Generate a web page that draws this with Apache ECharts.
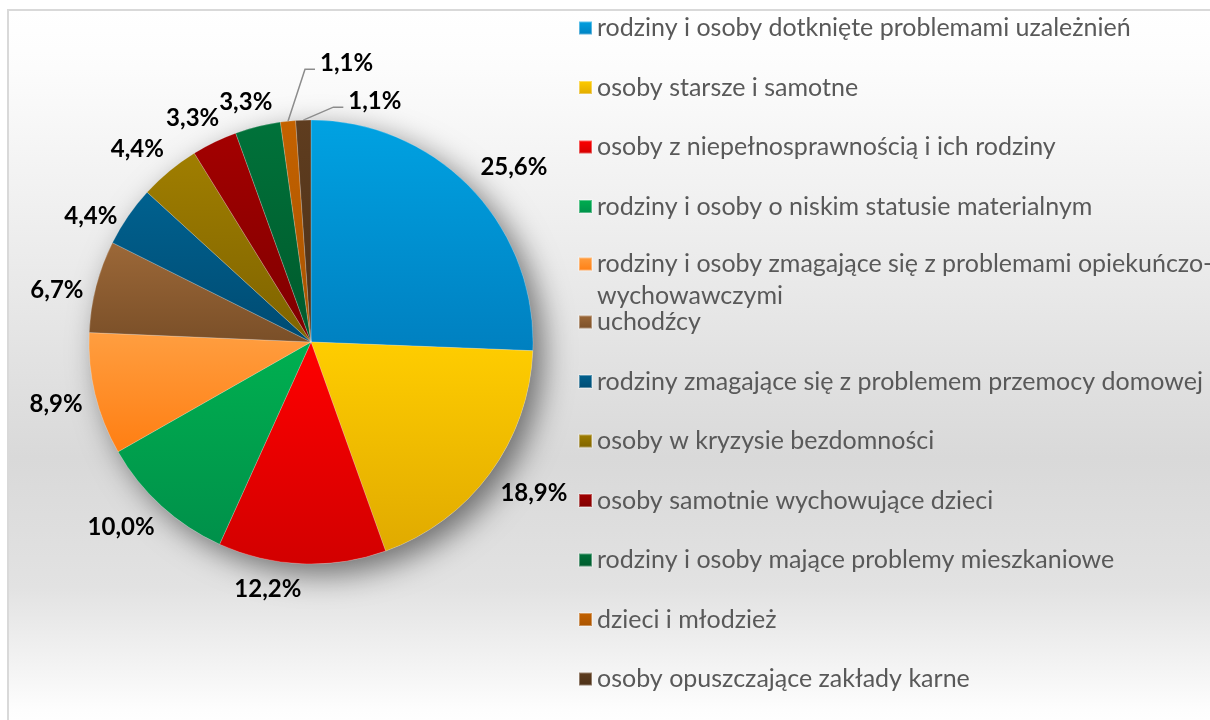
<!DOCTYPE html>
<html><head><meta charset="utf-8">
<script src="https://cdn.jsdelivr.net/npm/echarts@6/dist/echarts.min.js"></script>
<style>
html,body{margin:0;padding:0;background:#fff;overflow:hidden;}
#panel{position:absolute;left:7px;top:9px;width:1210px;height:720px;border-left:2px solid #d9d9d9;border-top:2px solid #d9d9d9;
background:linear-gradient(to bottom,#ffffff 0%,#fcfcfc 8%,#e9e9e9 38%,#d9d9d9 62%,#e2e2e2 80%,#fdfdfd 97%,#ffffff 100%);}
#chart{position:absolute;left:0;top:0;width:1210px;height:720px;}
</style></head><body>
<div id="panel"></div><div id="chart"></div>
<script>
const categories = [
  'rodziny i osoby dotknięte problemami uzależnień',
  'osoby starsze i samotne',
  'osoby z niepełnosprawnością i ich rodziny',
  'rodziny i osoby o niskim statusie materialnym',
  'rodziny i osoby zmagające się z problemami opiekuńczo-wychowawczymi',
  'uchodźcy',
  'rodziny zmagające się z problemem przemocy domowej',
  'osoby w kryzysie bezdomności',
  'osoby samotnie wychowujące dzieci',
  'rodziny i osoby mające problemy mieszkaniowe',
  'dzieci i młodzież',
  'osoby opuszczające zakłady karne'
];
const shares = [25.6, 18.9, 12.2, 10.0, 8.9, 6.7, 4.4, 4.4, 3.3, 3.3, 1.1, 1.1];

const colorsTop = ['#00a2e2','#ffcd00','#ff0000','#00b050','#ff9e40','#9c6838','#00618f','#a07e00','#a30000','#00723a','#c46200','#5f3d1f'];
const colorsBottom = ['#0080c0','#e0aa00','#d20000','#00904a','#ff7e12','#7a4f28','#004b72','#7e6300','#7e0000','#00592c','#a85300','#4c3018'];

const CX = 311, CY = 342, R = 222;
const FONT = 'Lato';

const total = shares.reduce((a, b) => a + b, 0);
const midAngles = [];
(function () { let acc = 0; shares.forEach(v => { midAngles.push((acc + v / 2) / total * 2 * Math.PI); acc += v; }); })();
const isSmall = v => v < 2;

function fmt(v) { return v.toFixed(1).replace('.', ',') + '%'; }

function layoutLabel(p) {
  const i = p.dataIndex;
  const a = midAngles[i];
  const dx = Math.sin(a), dy = -Math.cos(a);
  const w = p.labelRect.width, h = p.labelRect.height;
  if (isSmall(shares[i])) {
    let k = 0;
    for (let j = i + 1; j < shares.length; j++) if (isSmall(shares[j])) k++;
    const x0 = CX + dx * R, y0 = CY + dy * R;
    const ex = x0 + 30 - 13 * k, ey = y0 - 13 - 39 * k;
    return { x: ex + 15, y: ey - 6, align: 'left', verticalAlign: 'middle',
             labelLinePoints: [[x0, y0], [ex, ey], [ex + 10, ey]] };
  }
  const px = CX + dx * (R + 13), py = CY + dy * (R + 13);
  let sx = Math.sign(dx) * Math.min(1, Math.abs(dx) * 1.4);
  if (dy > 0.95) sx = Math.sign(dx);
  let sy = Math.sign(dy) * Math.min(1, Math.abs(dy) * 2);
  if (dx < -0.8) sy = 0.6;
  return { x: px + sx * w / 2, y: py + sy * h / 2, align: 'center', verticalAlign: 'middle' };
}

const seriesData = categories.map((name, i) => ({
  name: name,
  value: shares[i],
  itemStyle: { color: new echarts.graphic.LinearGradient(0, 0, 0, 1, [
    { offset: 0, color: colorsTop[i] }, { offset: 1, color: colorsBottom[i] }]) },
  labelLine: { show: isSmall(shares[i]) }
}));

const legendText = { color: '#595959', fontFamily: FONT, fontSize: 25, lineHeight: 32 };
function legendBase(extra) {
  return Object.assign({
    orient: 'vertical', left: 578, padding: 0, itemWidth: 13, itemHeight: 13, itemGap: 27.5,
    icon: 'rect', selectedMode: false, textStyle: legendText
  }, extra);
}

const chart = echarts.init(document.getElementById('chart'), null, { renderer: 'canvas' });
chart.setOption({
  backgroundColor: 'transparent',
  animation: false,
  legend: [
    legendBase({ top: 12, data: categories.slice(0, 4) }),
    legendBase({ top: 216, data: categories.slice(4, 5),
      formatter: n => ' \n' + n.replace('opiekuńczo-', 'opiekuńczo-\n') }),
    legendBase({ top: 306, data: categories.slice(5) })
  ],
  series: [
    {
      type: 'pie', z: 1, silent: true, center: [CX, CY], radius: R,
      label: { show: false }, labelLine: { show: false },
      data: [{ value: 1, name: '', itemStyle: { color: '#c8c8c8', shadowBlur: 30, shadowColor: 'rgba(0,0,0,0.5)', shadowOffsetX: 10, shadowOffsetY: 10 } }],
      emphasis: { disabled: true }, tooltip: { show: false }
    },
    {
      type: 'pie', z: 2, center: [CX, CY], radius: R, startAngle: 90, clockwise: true,
      avoidLabelOverlap: false,
      itemStyle: { borderColor: 'rgba(255,255,255,0.35)', borderWidth: 0.6 },
      label: { show: true, position: 'outside', formatter: p => fmt(p.value),
               color: '#000', fontFamily: FONT, fontWeight: 'bold', fontSize: 24 },
      labelLine: { show: false, length: 10, length2: 10, lineStyle: { color: '#8c8c8c', width: 1.5 } },
      labelLayout: layoutLabel,
      emphasis: { disabled: true },
      data: seriesData
    }
  ]
});
</script>
</body></html>
